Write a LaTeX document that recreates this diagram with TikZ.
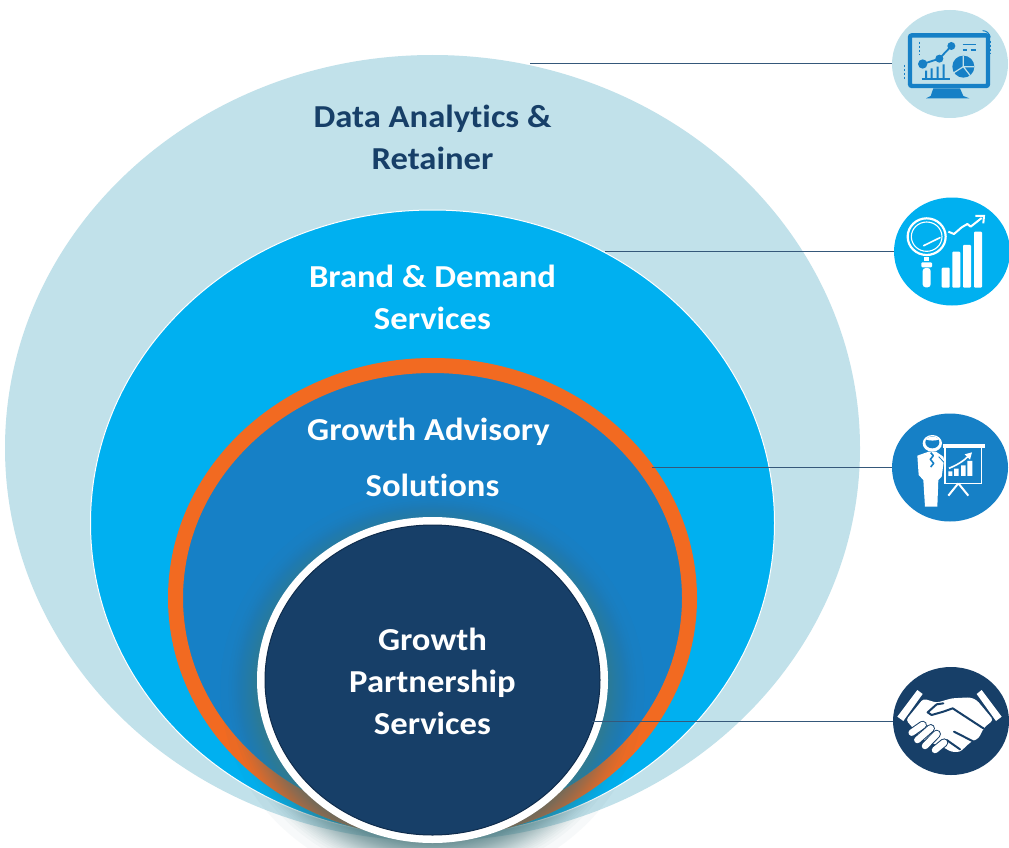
\documentclass[tikz,border=0pt]{standalone}
\usepackage{fontspec}
\setmainfont{Carlito}[FakeStretch=1.082,Ligatures=NoCommon]
\usetikzlibrary{shapes.geometric,arrows.meta}
\definecolor{ringA}{HTML}{C1E1EA}
\definecolor{ringB}{HTML}{00B0F0}
\definecolor{ringC}{HTML}{1680C6}
\definecolor{ringO}{HTML}{F26A21}
\definecolor{ringD}{HTML}{173F68}
\definecolor{rimD}{HTML}{0F2C4C}
\definecolor{lineC}{HTML}{35587A}
\definecolor{glowC}{HTML}{4A7A80}
\tikzset{
  ring/.style={ellipse,inner sep=0pt,outer sep=0pt,draw=none},
  label/.style={font=\fontsize{32}{42}\selectfont\bfseries,align=center,inner sep=0pt},
  lead/.style={draw=lineC,line width=1pt},
  badge/.style={ellipse,inner sep=0pt,outer sep=0pt,minimum width=116pt,minimum height=108pt},
  ink/.style={x=0.3333pt,y=-0.3333pt}
}
\begin{document}
\begin{tikzpicture}[x=1pt,y=-1pt]
\useasboundingbox (0,0) rectangle (1009,848);
\fill[white] (0,0) rectangle (1009,848);
% rings
\node[ring,fill=ringA,minimum width=855pt,minimum height=786pt] (r1) at (432.5,448) {};
\node[ring,fill=ringB,draw=white,line width=1pt,minimum width=684pt,minimum height=626pt] (r2) at (432.5,523) {};
\node[ring,fill=ringC,draw=ringO,line width=15pt,minimum width=514pt,minimum height=465pt] (r3) at (432.5,598) {};
% shadow under the core: stacked translucent ellipses
\foreach \k in {0,...,44}{
  \pgfmathsetmacro{\sc}{1-0.25*sqrt(\k/44)}
  \fill[glowC,opacity=.04] (432.5,688) ellipse [x radius=212*\sc,y radius=198*\sc];
}
\node[ring,fill=white,minimum width=351pt,minimum height=326pt] (r4w) at (432.5,680) {};
\node[ring,fill=ringD,draw=rimD,line width=1pt,minimum width=335pt,minimum height=310pt] (r4) at (432.5,680) {};
% labels
\node[label,text=ringD] (t1) at (432.5,137) {Data Analytics \&\\Retainer};
\node[label,text=white] (t2) at (432.5,297) {Brand \& Demand\\Services};
\node[label,text=white] (t3) at (428.5,432) {Growth Advisory};
\node[label,text=white] (t3b) at (432.5,485) {Solutions};
\node[label,text=white] (t4) at (432.5,681.5) {Growth\\Partnership\\Services};
% badges
\node[badge,fill=ringA] (b1) at (950,64) {};
\node[badge,fill=ringB] (b2) at (952,251.5) {};
\node[badge,fill=ringC] (b3) at (950,467.5) {};
\node[badge,fill=ringD] (b4) at (951,721) {};
% connectors
\coordinate (c1) at (530,64);
\coordinate (c2) at (605,251.5);
\coordinate (c3) at (652,467.5);
\coordinate (c4) at (592,721);
\draw[lead] (c1) -- (b1.west);
\draw[lead] (c2) -- (b2.west);
\draw[lead] (c3) -- (b3.west);
\draw[lead] (c4) -- (b4.west);
% icon 1: monitor
\begin{scope}[shift={(880,0)},ink]
\draw[ringC,line width=4.4pt,rounded corners=2pt] (90,106) rectangle (324,258);
\fill[ringC] (160,265) -- (240,265) -- (250,288) -- (268,295) -- (138,295) -- (152,288) -- cycle;
\draw[ringC,line width=1.8pt] (128,192) -- (178,176) -- (214,138);
\fill[ringC] (128,192) circle[radius=14] (178,176) circle[radius=12] (214,138) circle[radius=12];
\fill[ringC] (250,200) circle[radius=33];
\draw[ringA,line width=1.2pt] (250,200) -- (250,167) (250,200) -- (283,200) (250,200) -- (222,218) (250,200) -- (270,226);
\fill[ringC] (135,212) rectangle (141,235) (152,205) rectangle (158,235) (170,200) rectangle (176,235) (188,193) rectangle (194,235);
\draw[ringC,line width=1.2pt] (125,237) -- (210,237);
\draw[ringC,line width=1.2pt] (248,133) -- (288,133);
\draw[ringC,line width=1.2pt] (248,150) -- (262,150) (272,150) -- (288,150);
\draw[ringC,line width=1.5pt,dash pattern=on 2pt off 2pt] (118,125) -- (118,162);
\draw[ringC,line width=1.5pt,dash pattern=on 2pt off 2pt] (73,195) -- (73,238);
\draw[ringC,line width=1.5pt,dash pattern=on 2pt off 2pt] (330,122) -- (330,163);
\draw[ringC,line width=1pt] (308,92) .. controls (320,92) and (328,100) .. (331,112);
\end{scope}
% icon 2: magnifier and bars
\begin{scope}[shift={(880,190)},ink]
\draw[white,line width=2.2pt] (140,140) ellipse[x radius=57,y radius=55];
\draw[white,line width=1.1pt] (140,140) ellipse[x radius=46,y radius=44];
\draw[white,line width=1.6pt,line cap=round] (131,167) -- (180,143);
\fill[white] (133,200) rectangle (147,214);
\fill[white,rounded corners=1pt] (124,217) rectangle (156,232);
\fill[white,rounded corners=3pt] (128,234) rectangle (152,292);
\fill[white,rounded corners=1pt] (185,233) rectangle (209,293) (217,185) rectangle (241,293) (249,165) rectangle (273,293) (282,125) rectangle (306,293);
\draw[white,line width=2pt,line join=round] (205,125) -- (222,132) -- (245,112) -- (262,102) -- (272,110) -- (305,84);
\draw[white,line width=2pt,line join=miter] (286,78) -- (312,78) -- (310,100);
\end{scope}
% icon 3: presenter
\begin{scope}[shift={(880,405)},ink]
\fill[white] (157,115) ellipse[x radius=29,y radius=25];
\fill[ringC] (157,112) ellipse[x radius=21,y radius=18];
\fill[white] (136,103) .. controls (150,92) and (165,92) .. (178,103) .. controls (165,108) and (150,108) .. (136,103) -- cycle;
\fill[white] (112,152) -- (146,140) -- (168,140) -- (190,155) -- (192,165) -- (185,215) -- (175,225) -- (172,305) -- (135,305) -- (130,225) -- (116,210) -- cycle;
\draw[ringC,line width=1.6pt,line join=round] (152,143) -- (160,152) -- (151,163) -- (161,175) -- (152,186);
\draw[ringC,line width=.8pt] (176,155) -- (192,172);
\fill[white] (188,116) rectangle (315,130);
\draw[white,line width=1.1pt] (195,130) -- (195,235) -- (305,235) -- (305,130);
\draw[white,line width=2pt] (235,235) -- (205,272) (235,235) -- (265,272);
\fill[white] (205,199) rectangle (217,213) (222,191) rectangle (236,213) (243,181) rectangle (257,213) (262,168) rectangle (277,213);
\draw[white,line width=1.6pt] (207,190) .. controls (230,180) and (250,170) .. (268,150);
\fill[white] (276,142) -- (254,148) -- (270,164) -- cycle;
\end{scope}
% icon 4: handshake
\begin{scope}[shift={(880,660)},ink]
\fill[white] (52,170) -- (112,90) -- (128,102) -- (70,183) -- cycle;
\fill[white] (290,102) -- (305,90) -- (365,170) -- (348,183) -- cycle;
\fill[white,rounded corners=3pt] (130,116) -- (170,128) -- (215,115) -- (270,112) -- (290,120) -- (340,180) -- (312,203) -- (296,235) -- (272,246) -- (240,276) -- (215,276) -- (190,262) -- (130,240) -- (78,180) -- cycle;
\draw[ringD,line width=2pt,line join=round,line cap=round] (190,130) -- (170,133) -- (143,157) -- (155,165) -- (190,155) -- (218,145) -- (310,205);
\draw[ringD,line width=2pt,line cap=round] (222,215) -- (285,247) (200,240) -- (240,268);
\foreach \a/\b/\c/\d in {95/218/128/195,112/240/152/205,135/258/170/222,165/270/192/248}{
  \draw[ringD,line width=8.5pt,line cap=round] (\a,\b) -- (\c,\d);
  \draw[white,line width=6.5pt,line cap=round] (\a,\b) -- (\c,\d);
}
\end{scope}
\end{tikzpicture}
\end{document}
